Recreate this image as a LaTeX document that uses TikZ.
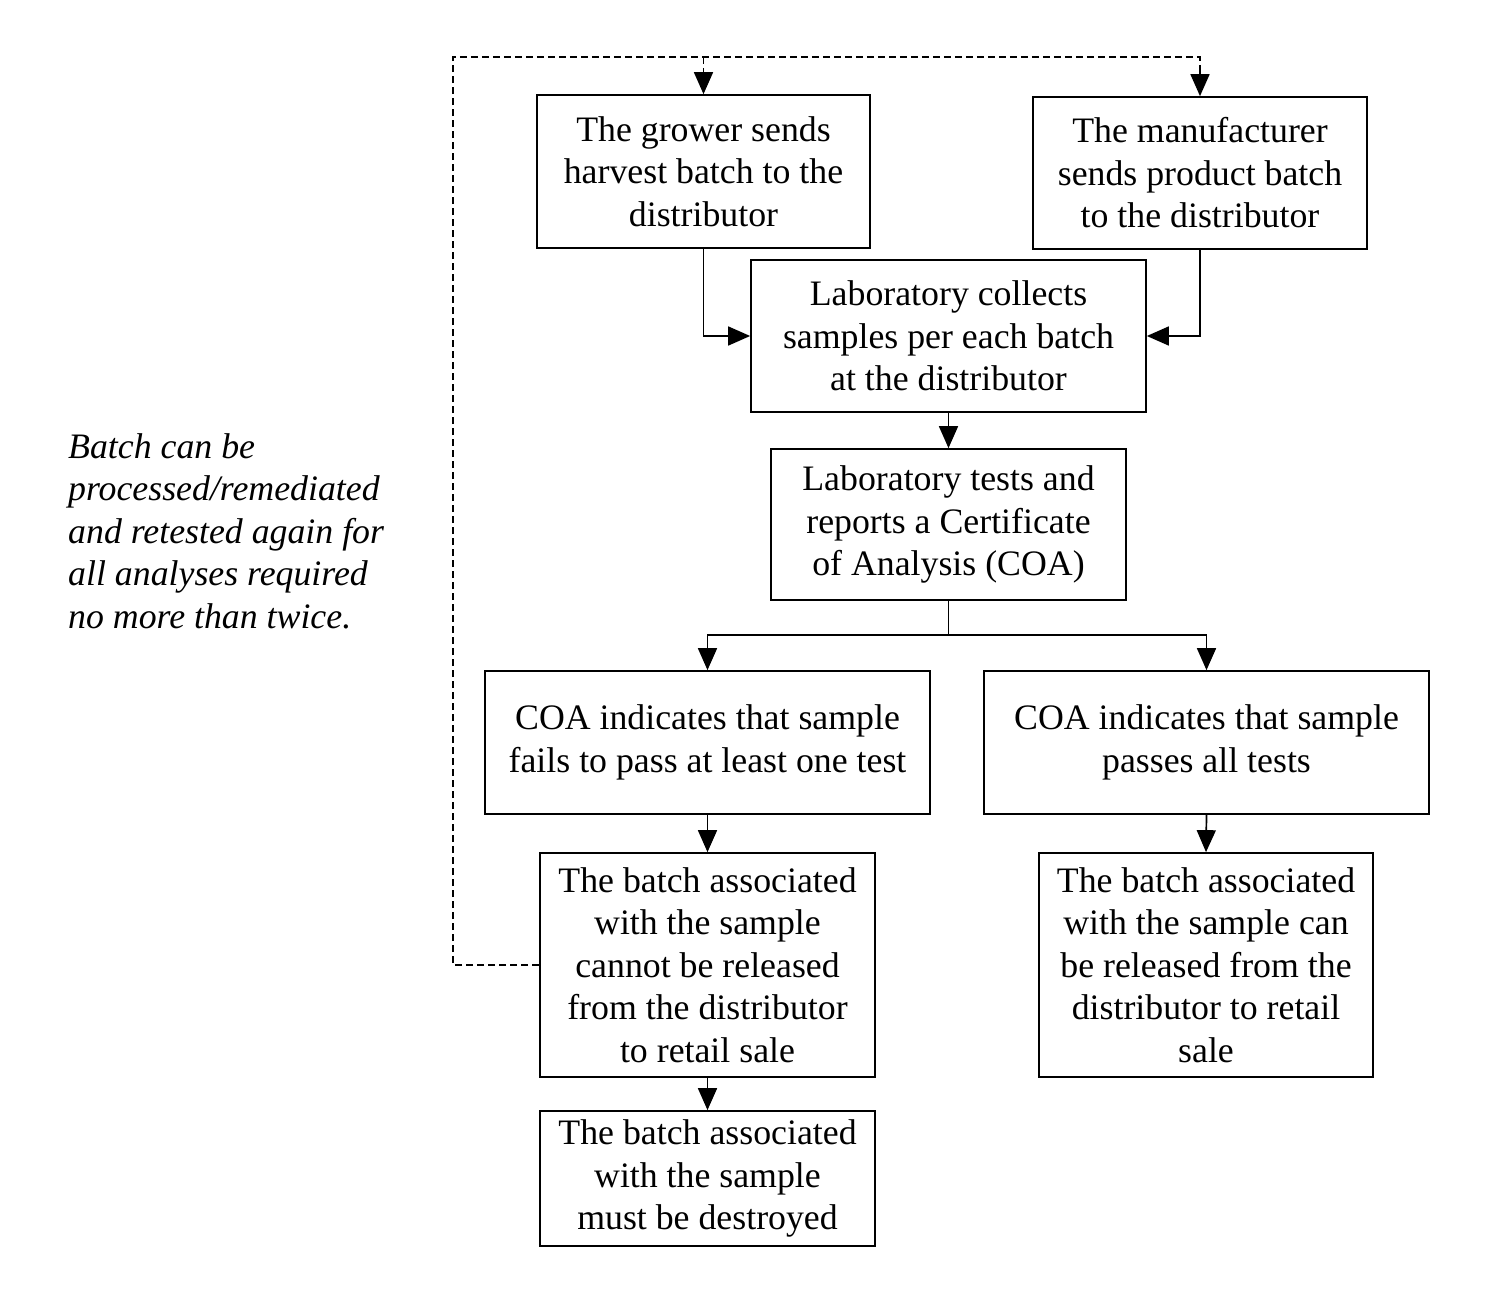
\documentclass[tikz,border=0pt]{standalone}
\usepackage{fontspec}
\setmainfont{Liberation Serif}
\usetikzlibrary{arrows.meta}
\begin{document}
\begin{tikzpicture}[x=1pt,y=-1pt,
  box/.style={draw, line width=1.7pt, align=center, inner sep=0pt,
    font=\fontsize{35.8}{42.5}\selectfont},
  arr/.style={line width=1.7pt, -{Triangle[length=22pt,width=19pt]}},
  conn/.style={line width=1.7pt},
  dsh/.style={line width=1.7pt, dash pattern=on 7pt off 4pt}]
\useasboundingbox (0,0) rectangle (1500,1290);
\node[box, minimum width=333pt, minimum height=153pt] (grower) at (703.5,171.5)
  {The grower sends\\harvest batch to the\\distributor};
\node[box, minimum width=334pt, minimum height=152pt] (manu) at (1200,173)
  {The manufacturer\\sends product batch\\to the distributor};
\node[box, minimum width=395pt, minimum height=152pt] (collect) at (948.5,336)
  {Laboratory collects\\samples per each batch\\at the distributor};
\node[box, minimum width=355pt, minimum height=151pt] (tests) at (948.5,524.5)
  {Laboratory tests and\\reports a Certificate\\of Analysis (COA)};
\node[box, minimum width=445pt, minimum height=143pt] (fails) at (707.5,742.5)
  {COA indicates that sample\\fails to pass at least one test};
\node[box, minimum width=445pt, minimum height=143pt] (passes) at (1206.5,742.5)
  {COA indicates that sample\\passes all tests};
\node[box, minimum width=335pt, minimum height=224pt] (cannot) at (707.5,965)
  {The batch associated\\with the sample\\cannot be released\\from the distributor\\to retail sale};
\node[box, minimum width=334pt, minimum height=224pt] (can) at (1206,965)
  {The batch associated\\with the sample can\\be released from the\\distributor to retail\\sale};
\node[box, minimum width=335pt, minimum height=135pt] (destroyed) at (707.5,1178.5)
  {The batch associated\\with the sample\\must be destroyed};
\node[align=left, anchor=west, inner sep=0pt,
  font=\fontsize{35.8}{42.5}\selectfont\itshape] (note) at (68,531)
  {Batch can be\\processed/remediated\\and retested again for\\all analyses required\\no more than twice.};
\coordinate (split) at (948.5,635);
\coordinate (loop) at (453,57);
\draw[arr] (grower.south) |- (collect.west);
\draw[arr] (manu.south) |- (collect.east);
\draw[arr] (collect.south) -- (tests.north);
\draw[conn] (tests.south) -- (split);
\draw[arr] (split) -| (fails.north);
\draw[arr] (split) -| (passes.north);
\draw[arr] (fails.south) -- (cannot.north);
\draw[arr] (passes.south) -- (can.north);
\draw[arr] (cannot.south) -- (destroyed.north);
\draw[dsh] (cannot.west) -| (loop) -| (manu.north);
\draw[dsh, -{Triangle[length=22pt,width=19pt]}] (manu.north) ++(0,-25) -- (manu.north);
\draw[dsh, -{Triangle[length=22pt,width=19pt]}] (grower.north |- loop) -- (grower.north);
\end{tikzpicture}
\end{document}
